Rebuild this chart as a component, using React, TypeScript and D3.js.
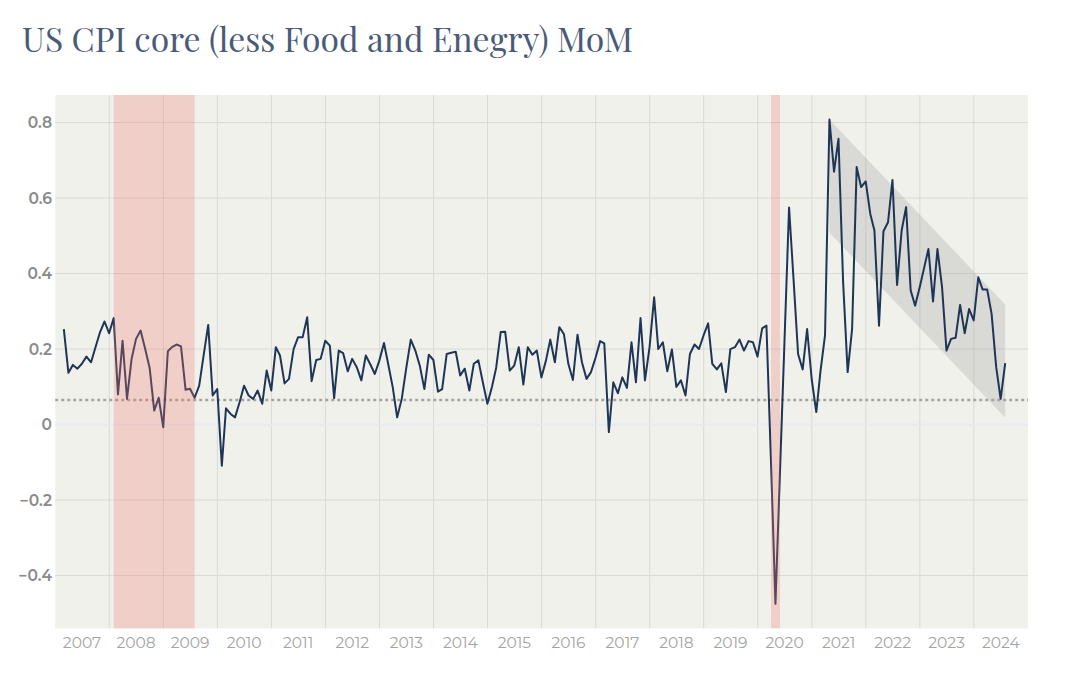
import React from "react";
import * as d3 from "d3";

// ---- Data (monthly % change, core CPI, seasonally adjusted) ----
const firstMonth = "2007-02";
const y2007 = [0.253, 0.137, 0.158, 0.148, 0.161, 0.18, 0.165, 0.205, 0.245, 0.273, 0.242];
const y2008 = [0.282, 0.08, 0.222, 0.068, 0.174, 0.227, 0.249, 0.2, 0.15, 0.037, 0.071, -0.007];
const y2009 = [0.194, 0.205, 0.212, 0.207, 0.092, 0.095, 0.071, 0.103, 0.183, 0.264, 0.077, 0.094];
const y2010 = [-0.109, 0.043, 0.028, 0.019, 0.059, 0.103, 0.077, 0.068, 0.09, 0.055, 0.143, 0.09];
const y2011 = [0.205, 0.183, 0.109, 0.121, 0.2, 0.231, 0.231, 0.284, 0.115, 0.171, 0.174, 0.222];
const y2012 = [0.209, 0.07, 0.196, 0.189, 0.141, 0.174, 0.152, 0.117, 0.183, 0.159, 0.134, 0.17];
const y2013 = [0.216, 0.161, 0.099, 0.019, 0.068, 0.148, 0.225, 0.196, 0.156, 0.094, 0.185, 0.171];
const y2014 = [0.087, 0.094, 0.187, 0.19, 0.193, 0.13, 0.148, 0.09, 0.161, 0.17, 0.112, 0.055];
const y2015 = [0.1, 0.15, 0.245, 0.246, 0.143, 0.156, 0.205, 0.106, 0.205, 0.185, 0.196, 0.125];
const y2016 = [0.17, 0.225, 0.165, 0.258, 0.24, 0.161, 0.118, 0.238, 0.165, 0.121, 0.139, 0.177];
const y2017 = [0.221, 0.215, -0.02, 0.112, 0.083, 0.125, 0.097, 0.218, 0.112, 0.282, 0.117, 0.205];
const y2018 = [0.337, 0.2, 0.218, 0.141, 0.199, 0.1, 0.117, 0.077, 0.187, 0.212, 0.2, 0.236];
const y2019 = [0.268, 0.161, 0.146, 0.162, 0.086, 0.2, 0.205, 0.225, 0.196, 0.221, 0.218, 0.18];
const y2020 = [0.255, 0.262, -0.1, -0.475, -0.12, 0.22, 0.575, 0.38, 0.187, 0.146, 0.253, 0.12];
const y2021 = [0.033, 0.14, 0.236, 0.808, 0.67, 0.757, 0.38, 0.139, 0.253, 0.682, 0.629, 0.644];
const y2022 = [0.558, 0.514, 0.262, 0.512, 0.536, 0.648, 0.37, 0.514, 0.576, 0.355, 0.315, 0.364];
const y2023 = [0.417, 0.465, 0.326, 0.465, 0.364, 0.196, 0.227, 0.23, 0.317, 0.242, 0.306, 0.276];
const y2024 = [0.39, 0.358, 0.358, 0.293, 0.152, 0.068, 0.163];

const yTicks = [-0.4, -0.2, 0, 0.2, 0.4, 0.6, 0.8];
const xTickYears = [2007, 2008, 2009, 2010, 2011, 2012, 2013, 2014, 2015, 2016, 2017, 2018, 2019, 2020, 2021, 2022, 2023, 2024];
const recessions = [
  ["2008-01-31", "2009-07-31"],
  ["2020-03-31", "2020-05-31"],
];
const trendDates = ["2021-04-30", "2024-07-31"];
const trendUpper = [0.808, 0.318];
const trendWidth = 0.3;
const referenceLevel = 0.065;
const xDomain = ["2007-01-01", "2025-01-01"];
const yDomain = [-0.54, 0.873];
const title = "US CPI core (less Food and Enegry) MoM";

const allValues = [
  ...y2007, ...y2008, ...y2009, ...y2010, ...y2011, ...y2012, ...y2013, ...y2014, ...y2015,
  ...y2016, ...y2017, ...y2018, ...y2019, ...y2020, ...y2021, ...y2022, ...y2023, ...y2024,
];

const parse = d3.timeParse("%Y-%m-%d");
const start = d3.timeParse("%Y-%m")(firstMonth) as Date;
// monthly observations, stamped at month end
const series = allValues.map((v, i) => {
  const d = d3.timeDay.offset(d3.timeMonth.offset(start, i + 1), -1);
  return { date: d, value: v };
});

const tickFont = "Montserrat, 'DejaVu Sans', sans-serif";

export default function App() {
  const W = 1080, H = 675;
  const left = 55.25, right = 1028, top = 95, bottom = 628.4;
  const x = d3.scaleTime().domain(xDomain.map((s) => parse(s) as Date)).range([left, right]);
  const y = d3.scaleLinear().domain(yDomain).range([bottom, top]);

  const line = d3.line<{ date: Date; value: number }>()
    .x((d) => x(d.date))
    .y((d) => y(d.value));

  const gridYears = xTickYears.slice(1).map((yr) => new Date(yr, 0, 1));

  const t0 = parse(trendDates[0]) as Date, t1 = parse(trendDates[1]) as Date;
  const trendPts = [
    [x(t0), y(trendUpper[0])],
    [x(t1), y(trendUpper[1])],
    [x(t1), y(trendUpper[1] - trendWidth)],
    [x(t0), y(trendUpper[0] - trendWidth)],
  ];

  const fmtY = (v: number) => (v === 0 ? "0" : (v < 0 ? "\u2212" : "") + Math.abs(v).toFixed(1));

  return (
    <svg width={W} height={H} style={{ position: "absolute", left: 0, top: 0, background: "#ffffff" }}>
      <text
        x={22}
        y={52}
        fontFamily="'Playfair Display', 'Liberation Serif', serif"
        fontSize={34}
        fill="#4a5b77"
        textLength={611}
        lengthAdjust="spacingAndGlyphs"
      >
        {title}
      </text>

      <rect x={left} y={top} width={right - left} height={bottom - top} fill="#f1f1ec" />

      {yTicks.filter((t) => t !== 0).map((t) => (
        <line key={"gy" + t} x1={left} x2={right} y1={y(t)} y2={y(t)} stroke="#d9d9d6" strokeWidth={1} />
      ))}
      {gridYears.map((d, i) => (
        <line key={"gx" + i} x1={x(d)} x2={x(d)} y1={top} y2={bottom} stroke="#d9d9d6" strokeWidth={1} />
      ))}
      <line x1={left} x2={right} y1={y(0)} y2={y(0)} stroke="#e7e9f4" strokeWidth={2} />

      <polygon points={trendPts.map((p) => p.join(",")).join(" ")} fill="#7f7f7f" fillOpacity={0.2} />

      <line
        x1={left}
        x2={right}
        y1={y(referenceLevel)}
        y2={y(referenceLevel)}
        stroke="#a3a3a0"
        strokeWidth={2.5}
        strokeDasharray="3,3"
      />

      <path d={line(series) || ""} fill="none" stroke="#1f3556" strokeWidth={2} strokeLinejoin="round" />

      {recessions.map(([a, b], i) => {
        const xa = x(parse(a) as Date), xb = x(parse(b) as Date);
        return <rect key={"r" + i} x={xa} y={top} width={xb - xa} height={bottom - top} fill="#f2776e" fillOpacity={0.28} />;
      })}

      {yTicks.map((t) => (
        <text
          key={"yl" + t}
          x={52}
          y={y(t)}
          dy="0.36em"
          textAnchor="end"
          fontFamily={tickFont}
          fontWeight={600}
          fontSize={15.5}
          fill="#8a8a8a"
        >
          {fmtY(t)}
        </text>
      ))}

      {xTickYears.map((yr) => {
        const mid = new Date(yr, 6, 1);
        return (
          <text
            key={"xl" + yr}
            x={x(mid)}
            y={648}
            textAnchor="middle"
            fontFamily={tickFont}
            fontSize={15.5}
            fill="#a3a3a3"
          >
            {yr}
          </text>
        );
      })}
    </svg>
  );
}
